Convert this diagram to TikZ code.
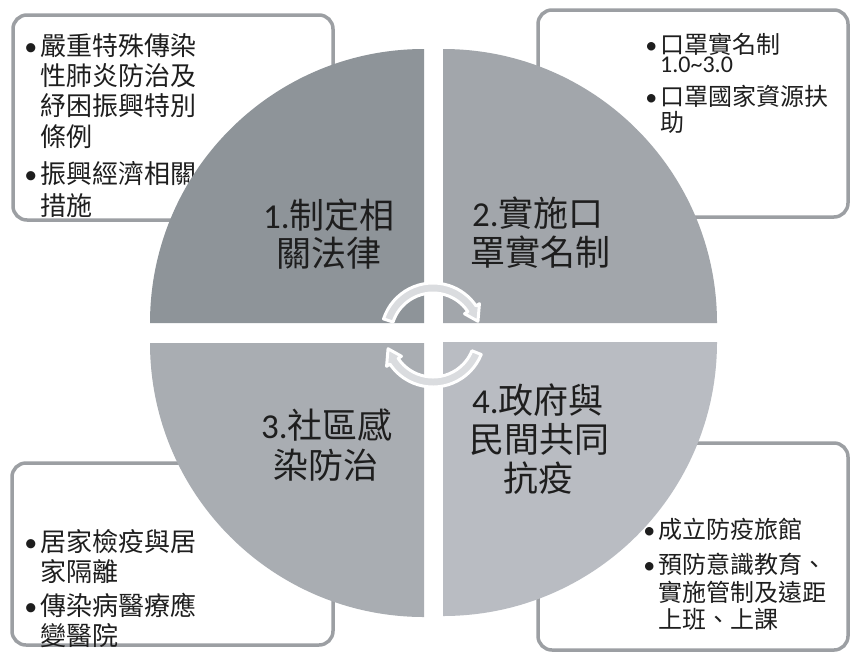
\documentclass[tikz,border=0pt]{standalone}
\usepackage{fontspec}
\setmainfont{Carlito}
\newfontfamily\cjk{Noto Sans CJK TC}
\newfontfamily\lat{Carlito}
\definecolor{qone}{HTML}{8E9499}
\definecolor{qtwo}{HTML}{A2A6AB}
\definecolor{qthree}{HTML}{A9ADB2}
\definecolor{qfour}{HTML}{B9BCC2}
\definecolor{boxline}{HTML}{9C9FA3}
\definecolor{txt}{HTML}{1E1E1E}
\definecolor{arrowfill}{HTML}{DADCDF}
\newcommand\bul{\llap{{\lat\textbullet}\hspace{3pt}}}
\begin{document}
\begin{tikzpicture}[x=1pt,y=-1pt,
  callout/.style={draw=boxline,line width=3.5pt,rounded corners=14pt,fill=white},
  smalltxt/.style={anchor=base west,inner sep=0pt,text=txt,font=\cjk\fontsize{26}{30}\selectfont},
  smalltxtb/.style={anchor=base west,inner sep=0pt,text=txt,font=\cjk\fontsize{24}{28}\selectfont},
  bigtxt/.style={anchor=base,inner sep=0pt,text=txt,font=\cjk\fontsize{35}{40}\selectfont},
  cyclearrow/.style={fill=arrowfill,draw=white,line width=3pt,line join=round}]
\useasboundingbox (0,0) rectangle (850,654);
\fill[white] (0,0) rectangle (850,654);
% callout boxes (behind the circle)
\draw[callout] (13,15) rectangle (333,220);
\draw[callout] (538,10) rectangle (848,217);
\draw[callout] (12,463) rectangle (333,645);
\draw[callout] (538,443) rectangle (848,650);
% box texts
\node[smalltxt] (b1a) at (40,55) {\bul 嚴重特殊傳染};
\node[smalltxt] (b1b) at (40,85) {性肺炎防治及};
\node[smalltxt] (b1c) at (40,115) {紓困振興特別};
\node[smalltxt] (b1d) at (40,146) {條例};
\node[smalltxt] (b1e) at (40,183) {\bul 振興經濟相關};
\node[smalltxt] (b1f) at (40,215) {措施};
\node[smalltxtb] (b2a) at (660,53) {\bul 口罩實名制};
\node[smalltxtb,font=\lat\fontsize{24}{28}\selectfont] (b2b) at (660,72) {1.0\textasciitilde 3.0};
\node[smalltxtb] (b2c) at (660,105) {\bul 口罩國家資源扶};
\node[smalltxtb] (b2d) at (660,131) {助};
\node[smalltxt] (b3a) at (40,551) {\bul 居家檢疫與居};
\node[smalltxt] (b3b) at (40,581) {家隔離};
\node[smalltxt] (b3c) at (40,615) {\bul 傳染病醫療應};
\node[smalltxt] (b3d) at (40,645) {變醫院};
\node[smalltxtb] (b4a) at (658,538) {\bul 成立防疫旅館};
\node[smalltxtb] (b4b) at (658,573) {\bul 預防意識教育、};
\node[smalltxtb] (b4c) at (658,601) {實施管制及遠距};
\node[smalltxtb] (b4d) at (658,628) {上班、上課};
% quadrants
\fill[qone] (424,323) -- ++(90:274pt) arc[start angle=90,end angle=180,radius=274pt] -- cycle;
\fill[qtwo] (443,323) -- ++(0:274pt) arc[start angle=0,end angle=90,radius=274pt] -- cycle;
\fill[qthree] (424,343) -- ++(180:274pt) arc[start angle=180,end angle=270,radius=274pt] -- cycle;
\fill[qfour] (443,342) -- ++(270:274pt) arc[start angle=270,end angle=360,radius=274pt] -- cycle;
% quadrant texts
\node[bigtxt] (q1a) at (329,228) {{\lat 1.}制定相};
\node[bigtxt] (q1b) at (329,266) {關法律};
\node[bigtxt] (q2a) at (538,226) {{\lat 2.}實施口};
\node[bigtxt] (q2b) at (540,265) {罩實名制};
\node[bigtxt] (q3a) at (327,438) {{\lat 3.}社區感};
\node[bigtxt] (q3b) at (326,478) {染防治};
\node[bigtxt] (q4a) at (538,413) {{\lat 4.}政府與};
\node[bigtxt] (q4b) at (539,452) {民間共同};
\node[bigtxt] (q4c) at (538,491) {抗疫};
% cycle arrows
\coordinate (cc) at (433,335);
\begin{scope}[shift={(cc)}]
\draw[cyclearrow] (162:52pt) arc[start angle=162,end angle=34,radius=52pt]
  -- (34:56pt) -- (17:47pt) -- (34:38pt) -- (34:42pt)
  arc[start angle=34,end angle=162,radius=42pt] -- cycle;
\draw[cyclearrow] (-22:52pt) arc[start angle=-22,end angle=-146,radius=52pt]
  -- (-146:56pt) -- (-163:47pt) -- (-146:38pt) -- (-146:42pt)
  arc[start angle=-146,end angle=-22,radius=42pt] -- cycle;
\end{scope}
\end{tikzpicture}
\end{document}
